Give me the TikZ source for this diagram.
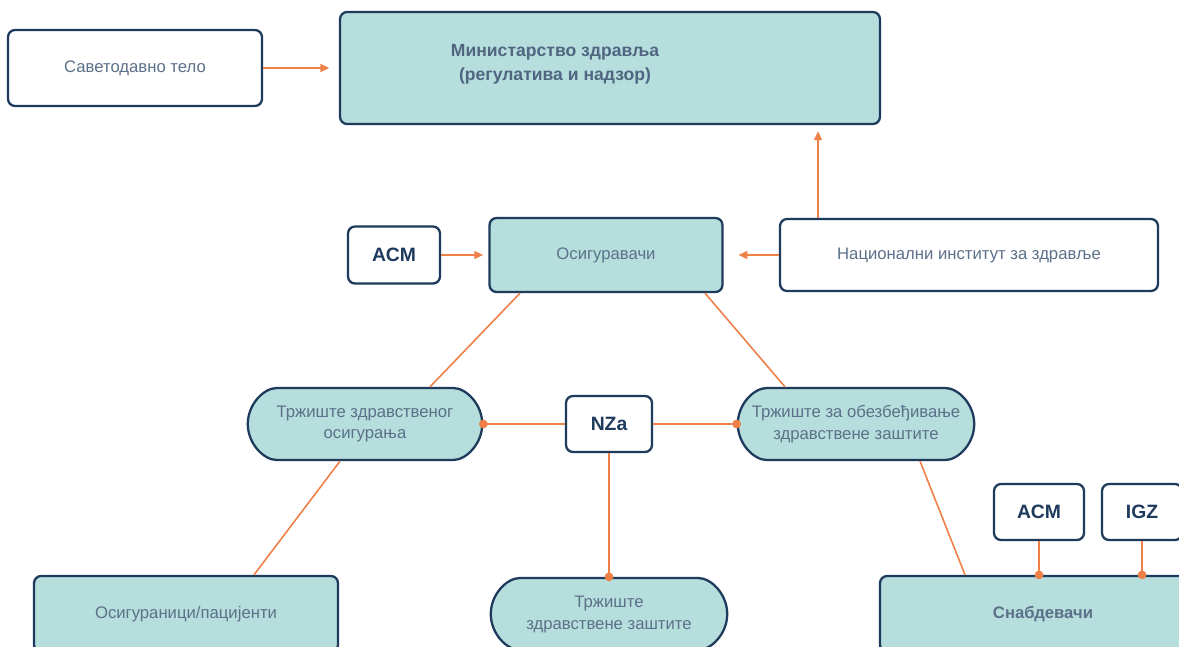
\documentclass[tikz,border=0pt]{standalone}
\usepackage{fontspec}
\setmainfont{Liberation Sans}
\usepackage{xcolor}
\usetikzlibrary{arrows.meta,positioning,shapes.misc}

\definecolor{boxfill}{HTML}{B5DEDC}
\definecolor{boxline}{HTML}{1E3A5C}
\definecolor{linkor}{HTML}{EE8048}
\definecolor{txtgray}{HTML}{5C7089}

\begin{document}
\begin{tikzpicture}[
  x=0.02cm, y=-0.02cm,
  box/.style={draw=boxline, line width=1.3pt, rounded corners=4pt, align=center, fill=white, text=txtgray, font=\fontsize{9.5}{12.5}\selectfont},
  tbox/.style={box, fill=boxfill},
  market/.style={tbox, rounded rectangle, inner xsep=1pt},
  tag/.style={box, text=boxline, font=\bfseries\fontsize{11}{13}\selectfont},
  arrow/.style={-{Triangle[length=5pt, width=4.5pt]}, draw=linkor, line width=0.9pt},
  link/.style={draw=linkor, line width=0.9pt},
  dot/.style={circle, fill=linkor, inner sep=0pt, minimum size=5pt}
]
\clip (0,0) rectangle (1179,646);
\fill[white] (0,0) rectangle (1179,646);

\node[box, minimum width=5.08cm, minimum height=1.52cm] (savet) at (135,68) {Саветодавно тело};
\node[tbox, minimum width=10.8cm, minimum height=2.24cm,
  label={[text=txtgray!80!boxline, font=\bfseries\fontsize{10}{13.6}\selectfont, align=center, xshift=-1.1cm, yshift=0.08cm]center:Министарство здравља\\(регулатива и надзор)}] (minist) at (610,68) {};
\node[tbox, minimum width=4.66cm, minimum height=1.48cm] (osig) at (606,255) {Осигуравачи};
\node[tag, minimum width=1.84cm, minimum height=1.14cm] (acmins) at (394,255) {ACM};
\node[box, minimum width=7.56cm, minimum height=1.44cm] (nacinst) at (969,255) {Национални институт за здравље};
\node[market, minimum width=4.76cm, minimum height=1.44cm] (trzosig) at (365,424) {Тржиште здравственог\\осигурања};
\node[tag, minimum width=1.72cm, minimum height=1.12cm] (nza) at (609,424) {NZa};
\node[market, minimum width=4.8cm, minimum height=1.44cm] (trzobez) at (856,424) {Тржиште за обезбеђивање\\здравствене заштите};
\node[market, minimum width=4.8cm, minimum height=1.44cm] (trzzast) at (609,614) {Тржиште\\здравствене заштите};
\node[tbox, minimum width=6.08cm, minimum height=1.52cm] (pacij) at (186,614) {Осигураници/пацијенти};
\node[tbox, minimum width=6.52cm, minimum height=1.52cm, font=\bfseries\fontsize{9.5}{12}\selectfont] (snabd) at (1043,614) {Снабдевачи};
\node[tag, minimum width=1.8cm, minimum height=1.12cm] (acmsup) at (1039,512) {ACM};
\node[tag, minimum width=1.6cm, minimum height=1.12cm] (igz) at (1142,512) {IGZ};

% arrows
\draw[arrow, shorten >=5.5pt] (savet) -- (minist);
\draw[arrow, shorten >=3pt] (acmins) -- (osig);
\draw[arrow, shorten >=8.5pt] (nacinst) -- (osig);
\draw[arrow, shorten >=3.5pt] ([xshift=-3.02cm]nacinst.north) -- ([xshift=-3.02cm]nacinst.north |- minist.south);

% links
\draw[link] ([xshift=-1.72cm]osig.south) -- ([xshift=1.3cm]trzosig.north);
\draw[link] ([xshift=1.98cm]osig.south) -- ([xshift=-1.42cm]trzobez.north);
\draw[link] ([xshift=-0.5cm]trzosig.south) -- ([xshift=1.36cm]pacij.north);
\draw[link] ([xshift=1.28cm]trzobez.south) -- ([xshift=-1.56cm]snabd.north);
\draw[link] (nza) -- (trzosig.east) node[dot] {};
\draw[link] (nza) -- (trzobez.west) node[dot] {};
\draw[link] (nza) -- (trzzast.north) node[dot] {};
\draw[link] (acmsup) -- (acmsup.south |- snabd.north) node[dot] {};
\draw[link] (igz) -- (igz.south |- snabd.north) node[dot] {};
\end{tikzpicture}
\end{document}
